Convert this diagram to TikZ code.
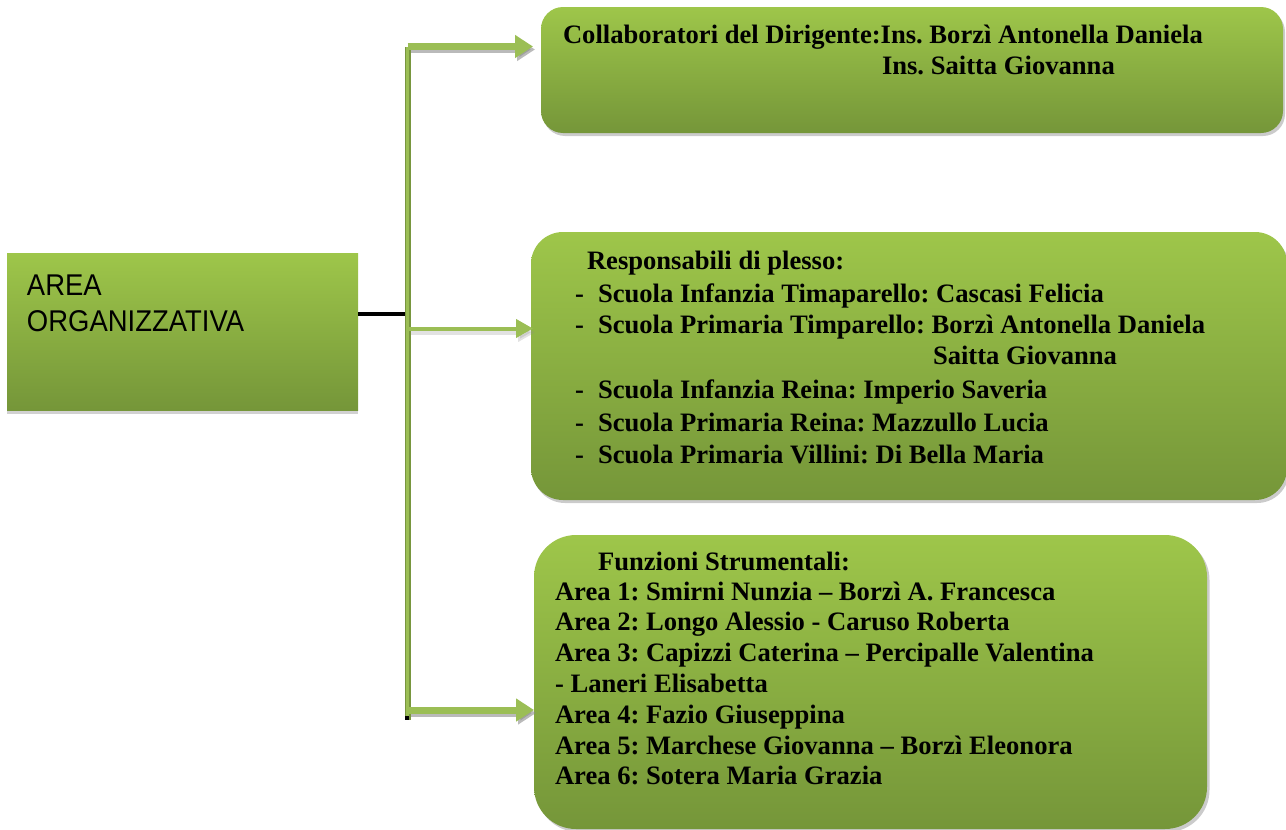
\documentclass[tikz,border=0pt]{standalone}
\usepackage{fontspec}
\setmainfont{Liberation Serif}
\newfontfamily\areafont[FakeStretch=0.915]{Liberation Sans}
\usetikzlibrary{arrows.meta}
\definecolor{gtop}{RGB}{158,198,74}
\definecolor{gbot}{RGB}{117,150,57}
\definecolor{conn}{RGB}{155,190,85}
\definecolor{connedge}{RGB}{120,150,62}
\definecolor{shad}{RGB}{140,140,140}
\frenchspacing
\begin{document}
\begin{tikzpicture}[x=1pt,y=-1pt,
  greenbox/.style={top color=gtop,bottom color=gbot,draw=none,inner sep=0pt,outer sep=0pt},
  shadowbox/.style={fill=shad,opacity=0.45,draw=none,inner sep=0pt,outer sep=0pt},
  txt/.style={anchor=base west,inner sep=0pt,outer sep=0pt,font=\fontsize{26.6}{31}\selectfont\bfseries},
  areatxt/.style={anchor=base west,inner sep=0pt,outer sep=0pt,font=\areafont\fontsize{30}{34}\selectfont},
  bigarrow/.style={line width=7pt,conn,-{Triangle[length=18pt,width=22pt]}},
  bigshadow/.style={line width=7pt,shad,opacity=0.6,-{Triangle[length=18pt,width=22pt]}},
  thinarrow/.style={line width=4pt,conn,-{Triangle[length=17pt,width=18pt]}},
  thinshadow/.style={line width=4pt,shad,opacity=0.25,-{Triangle[length=17pt,width=18pt]}},
  link/.style={line width=4pt,black}
]
\useasboundingbox (0,0) rectangle (1286,830);

% shadows of boxes
\fill[shad,opacity=0.4] (7,410) rectangle (358,414);
\node[shadowbox,rounded corners=22pt,minimum width=742pt,minimum height=126pt] at (914,73) {};
\node[shadowbox,rounded corners=32pt,minimum width=756pt,minimum height=268pt] at (911,369) {};
\node[shadowbox,rounded corners=42pt,minimum width=673pt,minimum height=294pt] at (873,685) {};

% boxes
\node[greenbox,minimum width=351pt,minimum height=157pt] (area) at (182.5,331.5) {};
\node[greenbox,rounded corners=22pt,minimum width=742pt,minimum height=126pt] (b1) at (912,70) {};
\node[greenbox,rounded corners=32pt,minimum width=756pt,minimum height=268pt] (b2) at (909,366) {};
\node[greenbox,rounded corners=42pt,minimum width=673pt,minimum height=294pt] (b3) at (870.5,682) {};

% left text
\node[areatxt] (a1) at (27,295) {AREA};
\node[areatxt] (a2) at (27,331) {ORGANIZZATIVA};

% spine coordinates
\coordinate (stop) at (407.5,46.5);
\coordinate (jn) at (405,313.5);
\coordinate (smid) at (407.5,328.5);
\coordinate (sbot) at (407.5,710);
\coordinate (send) at (407.5,720);

% connector from left box
\draw[link] (area.east |- jn) -- (jn);

% arrow shadows
\draw[bigshadow,shorten >=8pt,transform canvas={shift={(2pt,-3pt)}}] (stop) -- (b1.west |- stop);
\draw[thinshadow,shorten >=-2pt,transform canvas={shift={(2pt,-4pt)}}] (smid) -- (b2.west |- smid);
\draw[bigshadow,shorten >=0pt,transform canvas={shift={(2pt,-3pt)}}] (sbot) -- (b3.west |- sbot);

% spine
\draw[line width=6pt,connedge] (stop) -- (send);
\draw[line width=3.5pt,conn] (stop) -- (send);
\fill[black] (405,716) rectangle (409,720);

% arrows
\draw[bigarrow,shorten >=8pt] (stop) -- (b1.west |- stop);
\draw[thinarrow,shorten >=-2pt] (smid) -- (b2.west |- smid);
\draw[bigarrow,shorten >=0pt] (sbot) -- (b3.west |- sbot);

% box 1 text
\node[txt] (c1) at (563,43) {Collaboratori del Dirigente:Ins. Borzì Antonella Daniela};
\node[txt] (c2) at (882,74) {Ins. Saitta Giovanna};

% box 2 text
\node[txt] (r0) at (587,269) {Responsabili di plesso:};
\node[txt] (d1) at (575,302) {-};
\node[txt] (r1) at (598,302) {Scuola Infanzia Timaparello: Cascasi Felicia};
\node[txt] (d2) at (575,333) {-};
\node[txt] (r2) at (598,333) {Scuola Primaria Timparello: Borzì Antonella Daniela};
\node[txt] (r2b) at (933,364) {Saitta Giovanna};
\node[txt] (d3) at (575,398) {-};
\node[txt] (r3) at (598,398) {Scuola Infanzia Reina: Imperio Saveria};
\node[txt] (d4) at (575,431) {-};
\node[txt] (r4) at (598,431) {Scuola Primaria Reina: Mazzullo Lucia};
\node[txt] (d5) at (575,463) {-};
\node[txt] (r5) at (598,463) {Scuola Primaria Villini: Di Bella Maria};

% box 3 text
\node[txt] (f0) at (598,570) {Funzioni Strumentali:};
\node[txt] (f1) at (555,600) {Area 1: Smirni Nunzia – Borzì A. Francesca};
\node[txt] (f2) at (555,630) {Area 2: Longo Alessio - Caruso Roberta};
\node[txt] (f3) at (555,661) {Area 3: Capizzi Caterina – Percipalle Valentina};
\node[txt] (f3b) at (555,692) {- Laneri Elisabetta};
\node[txt] (f4) at (555,723) {Area 4: Fazio Giuseppina};
\node[txt] (f5) at (555,754) {Area 5: Marchese Giovanna – Borzì Eleonora};
\node[txt] (f6) at (555,784) {Area 6: Sotera Maria Grazia};
\end{tikzpicture}
\end{document}
